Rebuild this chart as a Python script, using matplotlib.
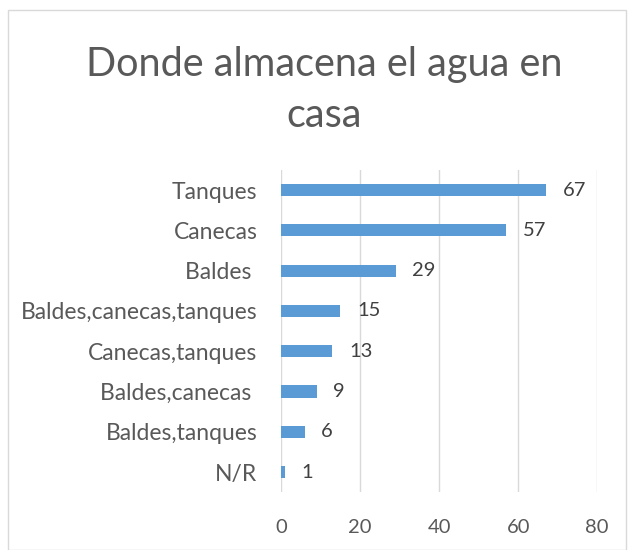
import matplotlib
matplotlib.use("Agg")
import matplotlib.pyplot as plt
from matplotlib.patches import Rectangle

# data (top to bottom as shown)
categories = ["Tanques", "Canecas", "Baldes ", "Baldes,canecas,tanques",
              "Canecas,tanques", "Baldes,canecas ", "Baldes,tanques", "N/R"]
values = [67, 57, 29, 15, 13, 9, 6, 1]
xticks = [0, 20, 40, 60, 80]

plt.rcParams['font.family'] = ['Lato', 'DejaVu Sans']

fig = plt.figure(figsize=(6.3, 5.5), dpi=100)
fig.patches.append(Rectangle((0.013, 0.0), 0.98, 0.982, transform=fig.transFigure,
                             fill=False, edgecolor='#d9d9d9', linewidth=1))

ax = fig.add_axes([0.446, 0.105, 0.502, 0.586])
ypos = list(range(len(categories)))
ax.barh(ypos, values, height=0.3, color='#5b9bd5', zorder=3)
for y, v in zip(ypos, values):
    ax.text(v + 4.2, y, str(v), va='center', ha='left', fontsize=14.5, color='#404040')

ax.set_yticks(ypos)
ax.set_yticklabels(categories, fontsize=16.5, color='#595959')
ax.set_ylim(len(categories) - 0.5, -0.5)
ax.set_xlim(0, 80)
ax.set_xticks(xticks)
ax.set_xticklabels([str(t) for t in xticks], fontsize=14.5, color='#595959')
ax.tick_params(length=0)
ax.tick_params(axis='y', pad=17)
ax.tick_params(axis='x', pad=19)
ax.grid(axis='x', color='#d9d9d9', linewidth=1, zorder=0)
for s in ax.spines.values():
    s.set_visible(False)

fig.text(0.515, 0.836, "Donde almacena el agua en\ncasa", ha='center', va='center',
         fontsize=28.5, color='#595959', linespacing=1.45)

fig.savefig("out.png", dpi=100)
